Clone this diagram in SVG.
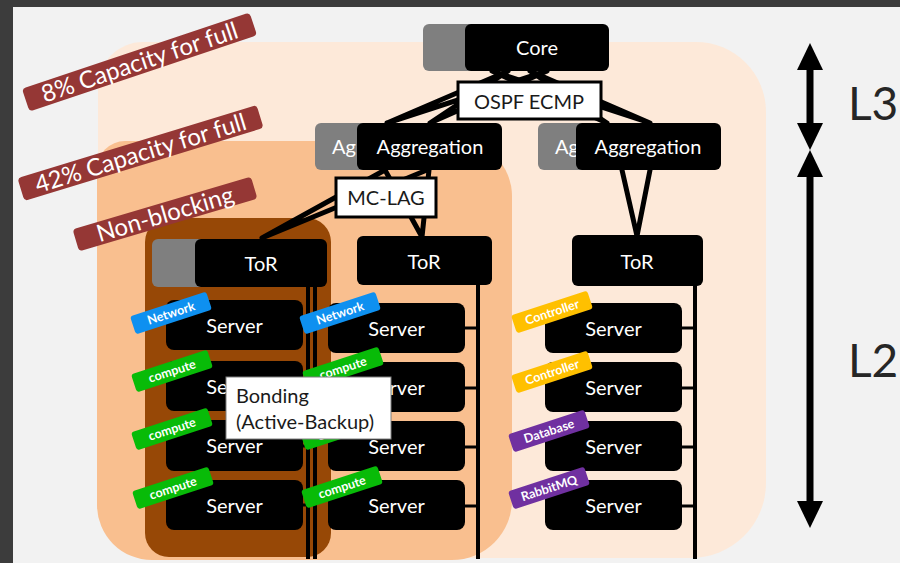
<svg xmlns="http://www.w3.org/2000/svg" width="900" height="563" viewBox="0 0 900 563">
  <style>
    text { font-family: Lato, "Open Sans", "DejaVu Sans", sans-serif; }
    .box { fill: #000; }
    .ghost { fill: #7f7f7f; }
    .lbl { fill: #fff; font-size: 20px; text-anchor: middle; }
    .ghost-lbl { fill: #fff; font-size: 20px; }
    .note { fill: #fff; stroke: #000; stroke-width: 3; }
    .note-txt { fill: #1a1a1a; font-size: 20px; text-anchor: middle; }
    .link { stroke: #000; stroke-width: 5; fill: none; stroke-linecap: round; }
    .bus { stroke: #000; stroke-width: 4; fill: none; }
    .stub { stroke: #000; stroke-width: 3; fill: none; }
    .band { fill: #953735; }
    .band-txt { fill: #fff; font-size: 24px; text-anchor: middle; }
    .tag-txt { fill: #fff; font-size: 12.5px; font-weight: bold; text-anchor: middle; }
    .layer { stroke: #000; stroke-width: 7; fill: none; }
    .layer-txt { fill: #262626; font-size: 46px; }
  </style>
  <defs>
    <marker id="head" viewBox="0 0 27 26" refX="10" refY="13" markerWidth="27" markerHeight="26" markerUnits="userSpaceOnUse" orient="auto-start-reverse">
      <path d="M0,0 L27,13 L0,26 z" fill="#000"/>
    </marker>
    <rect id="tagShape" x="-40" y="-9.5" width="80" height="19" rx="3"/>
  </defs>

  <!-- canvas and frame -->
  <rect x="0" y="0" width="900" height="563" fill="#f2f2f2"/>
  <rect x="0" y="0" width="900" height="7" fill="#3c3c3c"/>
  <rect x="0" y="0" width="13" height="563" fill="#3c3c3c"/>

  <!-- zones -->
  <g id="zones">
    <path d="M143,42 H696 A70,70 0 0 1 766,112 V483 A75,75 0 0 1 691,558 H158 A60,60 0 0 1 98,498 V87 A45,45 0 0 1 143,42 Z" fill="#fde9d9"/>
    <path d="M125,141 H457 A55,55 0 0 1 512,196 V500 A60,60 0 0 1 452,560 H152 A55,55 0 0 1 97,505 V169 A28,28 0 0 1 125,141 Z" fill="#f9bf8f"/>
    <rect x="145" y="218" width="186" height="339" rx="24" fill="#974806"/>
  </g>

  <!-- capacity bands -->
  <g id="band-8">
    <g transform="translate(139.5,62) rotate(-18.5)">
      <rect class="band" x="-120" y="-12" width="240" height="24" rx="4"/>
      <text class="band-txt" x="0" y="8.5">8% Capacity for full</text>
    </g>
  </g>
  <g id="band-42">
    <g transform="translate(140.5,153) rotate(-17)">
      <rect class="band" x="-125" y="-12" width="250" height="24" rx="4"/>
      <text class="band-txt" x="0" y="8.5">42% Capacity for full</text>
    </g>
  </g>
  <g id="band-nb">
    <g transform="translate(165,214) rotate(-16.5)">
      <rect class="band" x="-93" y="-11.5" width="186" height="23" rx="4"/>
      <text class="band-txt" x="0" y="8.5">Non-blocking</text>
    </g>
  </g>

  <!-- connectors -->
  <g id="connectors">
    <path class="link" d="M508,71 L387,123 M508,71 L430,123 M547,71 L387,123 M547,71 L430,123"/>
    <path class="link" d="M492,71 L607,123 M492,71 L650,123 M530,71 L607,123 M530,71 L650,123"/>
    <path class="link" d="M385,170 L262,238 M427,170 L262,238 M385,170 L422,237 M429,170 L422,237"/>
    <path class="link" d="M622,170 L637,236 M650,170 L637,236"/>
    <path class="bus" d="M308,287 V559 M315,287 V559 M478,285 V559 M695,286 V559"/>
    <path class="stub" d="M303,326 H308 M303,386 H308 M303,446 H308 M303,505 H308"/>
    <path class="stub" d="M465,328 H478 M465,388 H478 M465,447 H478 M465,506 H478"/>
    <path class="stub" d="M682,328 H695 M682,388 H695 M682,447 H695 M682,506 H695"/>
  </g>

  <!-- core -->
  <g id="core">
    <rect class="ghost" x="423" y="24" width="144" height="47" rx="6"/>
    <rect class="box" x="465" y="24" width="144" height="47" rx="6"/>
    <text class="lbl" x="537" y="55">Core</text>
  </g>

  <!-- aggregation -->
  <g id="agg-left">
    <rect class="ghost" x="315" y="123" width="145" height="47" rx="6"/>
    <text class="ghost-lbl" x="332" y="154">Ag</text>
    <rect class="box" x="357" y="123" width="145" height="47" rx="6"/>
    <text class="lbl" x="430" y="154">Aggregation</text>
  </g>
  <g id="agg-right">
    <rect class="ghost" x="538" y="123" width="145" height="47" rx="6"/>
    <text class="ghost-lbl" x="555" y="154">Ag</text>
    <rect class="box" x="576" y="123" width="145" height="47" rx="6"/>
    <text class="lbl" x="648" y="154">Aggregation</text>
  </g>

  <!-- protocol notes -->
  <g id="ospf">
    <rect class="note" x="458" y="82" width="143" height="37"/>
    <text class="note-txt" x="529" y="109">OSPF ECMP</text>
  </g>
  <g id="mclag">
    <rect class="note" x="336" y="178" width="100" height="39"/>
    <text class="note-txt" x="386" y="205">MC-LAG</text>
  </g>

  <!-- top-of-rack switches -->
  <g id="tor-1">
    <rect class="ghost" x="152" y="239" width="132" height="48" rx="6"/>
    <rect class="box" x="195" y="239" width="132" height="48" rx="6"/>
    <text class="lbl" x="261" y="271">ToR</text>
  </g>
  <g id="tor-2">
    <rect class="box" x="357" y="236" width="135" height="49" rx="6"/>
    <text class="lbl" x="424" y="269">ToR</text>
  </g>
  <g id="tor-3">
    <rect class="box" x="572" y="235" width="131" height="51" rx="6"/>
    <text class="lbl" x="637" y="269">ToR</text>
  </g>

  <!-- servers, column 1 -->
  <g id="srv-1-1"><rect class="box" x="166" y="300" width="137" height="50" rx="8"/><text class="lbl" x="234.5" y="333">Server</text></g>
  <g id="srv-1-2"><rect class="box" x="166" y="361" width="137" height="50" rx="8"/><text class="lbl" x="234.5" y="394">Server</text></g>
  <g id="srv-1-3"><rect class="box" x="166" y="420" width="137" height="51" rx="8"/><text class="lbl" x="234.5" y="453">Server</text></g>
  <g id="srv-1-4"><rect class="box" x="166" y="480" width="137" height="50" rx="8"/><text class="lbl" x="234.5" y="513">Server</text></g>

  <!-- servers, column 2 -->
  <g id="srv-2-1"><rect class="box" x="328" y="303" width="137" height="50" rx="8"/><text class="lbl" x="396.5" y="336">Server</text></g>
  <g id="srv-2-2"><rect class="box" x="328" y="362" width="137" height="50" rx="8"/><text class="lbl" x="396.5" y="395">Server</text></g>
  <g id="srv-2-3"><rect class="box" x="328" y="421" width="137" height="50" rx="8"/><text class="lbl" x="396.5" y="454">Server</text></g>
  <g id="srv-2-4"><rect class="box" x="328" y="480" width="137" height="50" rx="8"/><text class="lbl" x="396.5" y="513">Server</text></g>

  <!-- servers, column 3 -->
  <g id="srv-3-1"><rect class="box" x="545" y="303" width="137" height="50" rx="8"/><text class="lbl" x="613.5" y="336">Server</text></g>
  <g id="srv-3-2"><rect class="box" x="545" y="362" width="137" height="50" rx="8"/><text class="lbl" x="613.5" y="395">Server</text></g>
  <g id="srv-3-3"><rect class="box" x="545" y="421" width="137" height="50" rx="8"/><text class="lbl" x="613.5" y="454">Server</text></g>
  <g id="srv-3-4"><rect class="box" x="545" y="480" width="137" height="50" rx="8"/><text class="lbl" x="613.5" y="513">Server</text></g>

  <!-- role tags -->
  <g id="tag-1-1" transform="translate(171,313) rotate(-18)"><use href="#tagShape" fill="#0e90f0"/><text class="tag-txt" x="0" y="4.5">Network</text></g>
  <g id="tag-1-2" transform="translate(172,371) rotate(-18)"><use href="#tagShape" fill="#08bb08"/><text class="tag-txt" x="0" y="4.5">compute</text></g>
  <g id="tag-1-3" transform="translate(172,429) rotate(-18)"><use href="#tagShape" fill="#08bb08"/><text class="tag-txt" x="0" y="4.5">compute</text></g>
  <g id="tag-1-4" transform="translate(173,488) rotate(-18)"><use href="#tagShape" fill="#08bb08"/><text class="tag-txt" x="0" y="4.5">compute</text></g>

  <g id="tag-2-1" transform="translate(340,313) rotate(-18)"><use href="#tagShape" fill="#0e90f0"/><text class="tag-txt" x="0" y="4.5">Network</text></g>
  <g id="tag-2-2" transform="translate(343,368) rotate(-18)"><use href="#tagShape" fill="#08bb08"/><text class="tag-txt" x="0" y="4.5">compute</text></g>
  <g id="tag-2-3" transform="translate(341,429) rotate(-18)"><use href="#tagShape" fill="#08bb08"/><text class="tag-txt" x="0" y="4.5">compute</text></g>
  <g id="tag-2-4" transform="translate(342,487) rotate(-18)"><use href="#tagShape" fill="#08bb08"/><text class="tag-txt" x="0" y="4.5">compute</text></g>

  <g id="tag-3-1" transform="translate(552,312) rotate(-18)"><use href="#tagShape" fill="#ffc000"/><text class="tag-txt" x="0" y="4.5">Controller</text></g>
  <g id="tag-3-2" transform="translate(552,372) rotate(-18)"><use href="#tagShape" fill="#ffc000"/><text class="tag-txt" x="0" y="4.5">Controller</text></g>
  <g id="tag-3-3" transform="translate(549,431) rotate(-18)"><use href="#tagShape" fill="#7030a0"/><text class="tag-txt" x="0" y="4.5">Database</text></g>
  <g id="tag-3-4" transform="translate(549,488) rotate(-18)"><use href="#tagShape" fill="#7030a0"/><text class="tag-txt" x="0" y="4.5">RabbitMQ</text></g>

  <!-- bonding note -->
  <g id="bonding">
    <rect x="226" y="377" width="165" height="62" fill="#fff" stroke="#7f7f7f" stroke-width="1"/>
    <text x="236" y="403" fill="#1a1a1a" font-size="20">Bonding</text>
    <text x="236" y="429" fill="#1a1a1a" font-size="20">(Active-Backup)</text>
  </g>

  <!-- layer scale -->
  <g id="layers">
    <line class="layer" x1="810" y1="60" x2="810" y2="133" marker-start="url(#head)" marker-end="url(#head)"/>
    <line class="layer" x1="810" y1="167" x2="810" y2="511" marker-start="url(#head)" marker-end="url(#head)"/>
    <text class="layer-txt" x="848" y="120">L3</text>
    <text class="layer-txt" x="848" y="377">L2</text>
  </g>
</svg>
